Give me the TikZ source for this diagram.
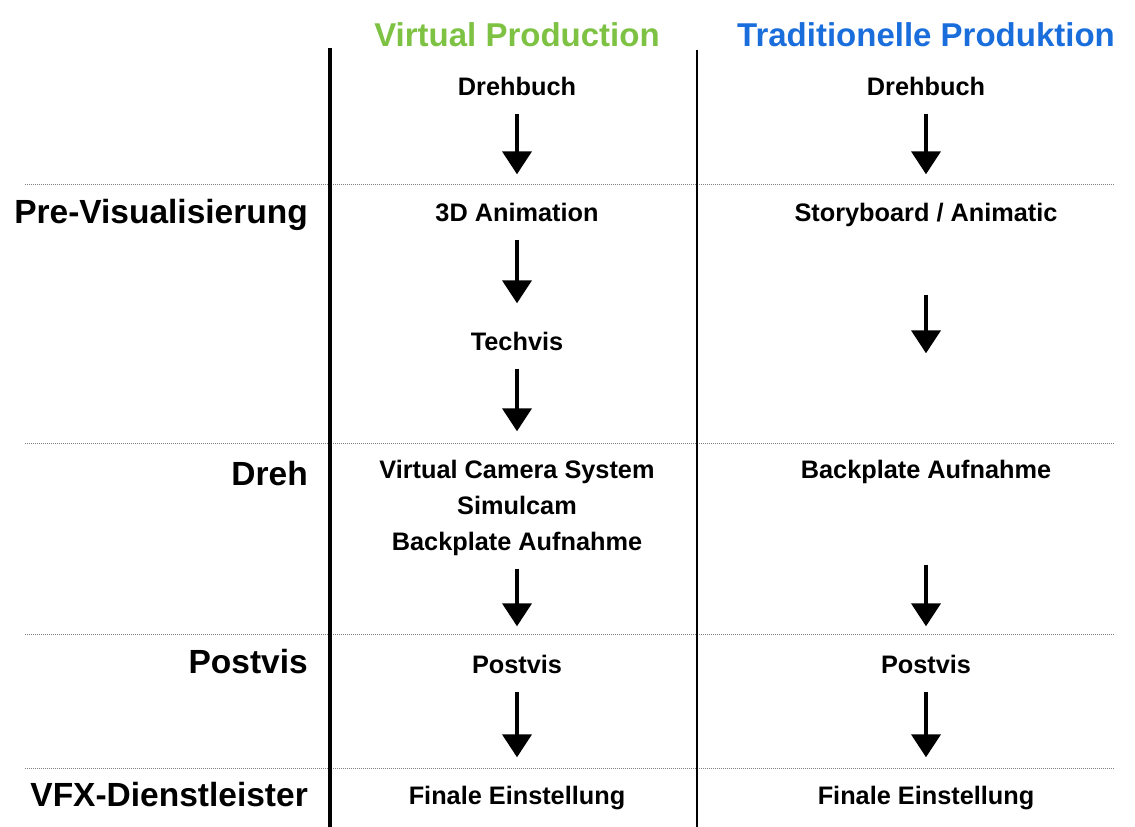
\documentclass[tikz,border=0pt]{standalone}
\usepackage{fontspec}
\setmainfont{Liberation Sans}
\usetikzlibrary{arrows.meta,positioning}
\definecolor{vpgreen}{RGB}{125,194,66}
\definecolor{tpblue}{RGB}{26,110,220}

\begin{document}
\begin{tikzpicture}[x=1pt, y=-1pt,
    head/.style={font=\fontsize{33}{36}\selectfont\bfseries, inner sep=0pt},
    phase/.style={font=\fontsize{33.5}{36}\selectfont\bfseries, anchor=east, inner sep=0pt, text height=24pt, text depth=7pt},
    item/.style={font=\fontsize{25.3}{28}\selectfont\bfseries, inner sep=0pt, text height=18pt, text depth=5pt},
    arrow/.style={-{Triangle[width=29pt,length=23pt]}, line width=4pt, shorten <=13pt, shorten >=29pt},
    sep/.style={densely dotted, gray, line width=1pt}
]
\useasboundingbox (0,0) rectangle (1135,827);
% Spaltentitel
\node[head, text=vpgreen] (vp) at (517,35) {Virtual Production};
\node[head, text=tpblue] (tp) at (926,35) {Traditionelle Produktion};
% Trennlinien
\foreach \y in {184,443,634,768}
  \draw[sep] (25,\y) -- (1115,\y);
\draw[line width=4pt] (330,48) -- (330,827);
\draw[line width=1.8pt] (697,50) -- (697,827);
% Phasen
\node[phase] (pre) at (308,215) {Pre-Visualisierung};
\node[phase] (dreh) at (308,477) {Dreh};
\node[phase] (post) at (308,665) {Postvis};
\node[phase] (vfx) at (308,798) {VFX-Dienstleister};
% Virtual Production
\node[item] (dbA) at (517,89) {Drehbuch};
\node[item] (animA) at (517,215) {3D Animation};
\node[item] (techA) at (517,344) {Techvis};
\node[item] (vcsA) at (517,472) {Virtual Camera System};
\node[item] (simA) at (517,508) {Simulcam};
\node[item] (bpA) at (517,544) {Backplate Aufnahme};
\node[item] (pvA) at (517,667) {Postvis};
\node[item] (finA) at (517,798) {Finale Einstellung};
% Traditionelle Produktion
\node[item] (dbB) at (926,89) {Drehbuch};
\node[item] (sbB) at (926,215) {Storyboard / Animatic};
\node[item] (bpB) at (926,472) {Backplate Aufnahme};
\node[item] (pvB) at (926,667) {Postvis};
\node[item] (finB) at (926,798) {Finale Einstellung};
% Pfeile
\draw[arrow] (dbA) -- (animA);
\draw[arrow] (animA) -- (techA);
\draw[arrow] (techA) -- (vcsA);
\draw[arrow] (bpA) -- (pvA);
\draw[arrow] (pvA) -- (finA);
\draw[arrow] (dbB) -- (sbB);
\draw[arrow, shorten <=68pt, shorten >=107pt] (sbB) -- (bpB);
\draw[arrow, shorten <=81pt] (bpB) -- (pvB);
\draw[arrow] (pvB) -- (finB);
\end{tikzpicture}
\end{document}
